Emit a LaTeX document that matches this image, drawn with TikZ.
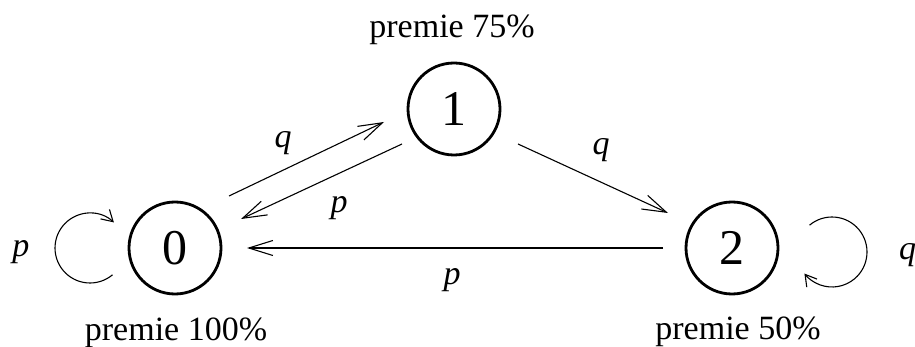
\documentclass[tikz,border=0pt]{standalone}
\usepackage{fontspec}
\setmainfont{Liberation Serif}
\usetikzlibrary{arrows.meta}
\tikzset{
  state/.style={circle, draw, line width=2.8pt, minimum size=92pt, inner sep=0pt, font=\fontsize{50}{56}\selectfont},
  lbl/.style={inner sep=0pt, anchor=base, font=\fontsize{34}{40}\selectfont},
  var/.style={inner sep=0pt, anchor=base, font=\fontsize{34}{40}\selectfont\itshape},
  edge/.style={line width=1.1pt, -{Straight Barb[length=24pt, width=15pt, line width=1.1pt]}},
  loopar/.style={line width=1.1pt, -{Straight Barb[length=11pt, width=13pt, line width=1.1pt]}}
}
\begin{document}
\begin{tikzpicture}[x=1pt, y=-1pt]
\useasboundingbox (0,0) rectangle (915,347);
\node[state] (n0) at (175,248) {0};
\node[state] (n1) at (454,109) {1};
\node[state] (n2) at (732,248) {2};
\node[lbl] (t1) at (452,38) {premie 75\%};
\node[lbl] (t0) at (176,340) {premie 100\%};
\node[lbl] (t2) at (738,339) {premie 50\%};
\node[var] (l01) at (283,148) {q};
\node[var] (l10) at (339,213) {p};
\node[var] (l12) at (601,155) {q};
\node[var] (l20) at (452,284) {p};
\node[var] (l00) at (21,257) {p};
\node[var, anchor=base west] (l22) at (899,259) {q};
\draw[edge] ([shift={(54,-52)}]n0.center) -- ([shift={(-70,13)}]n1.center);
\draw[edge] ([shift={(-52,35)}]n1.center) -- ([shift={(66,-29)}]n0.center);
\draw[edge] ([shift={(64,35)}]n1.center) -- ([shift={(-64,-35)}]n2.center);
\draw[edge] ([shift={(-69,0)}]n2.center) -- ([shift={(72,0)}]n0.center);
\draw[loopar] ([shift={(-85,0)}]n0.center) ++(50:35) arc[start angle=50, end angle=313, radius=35];
\draw[loopar] ([shift={(100,4)}]n2.center) ++(230:35) arc[start angle=230, end angle=502, radius=35];
\end{tikzpicture}
\end{document}
